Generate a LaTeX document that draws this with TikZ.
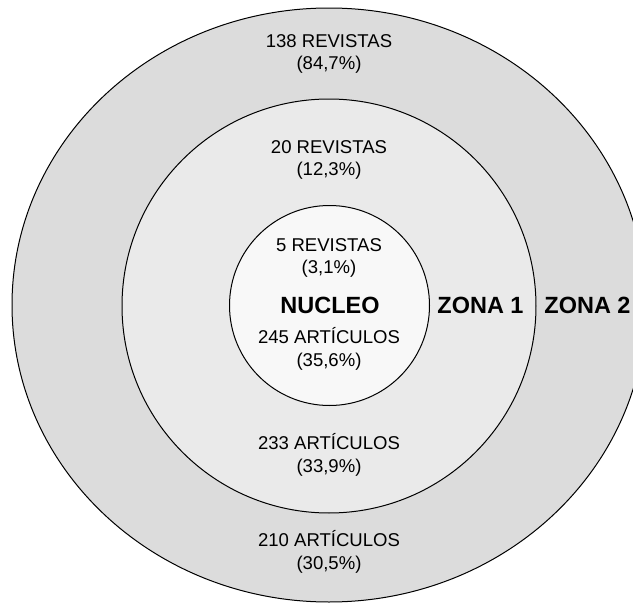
\documentclass[tikz,border=0pt]{standalone}
\usepackage{fontspec}
\setmainfont{Liberation Sans}
\definecolor{zonados}{RGB}{220,220,220}
\definecolor{zonauno}{RGB}{234,234,234}
\definecolor{nucleofill}{RGB}{248,248,248}
\newcommand{\txtnorm}{\fontsize{13.9}{16.9}\selectfont}
\newcommand{\txtbold}{\fontsize{17.6}{20}\selectfont\bfseries}
\begin{document}
\begin{tikzpicture}[x=0.75pt,y=0.75pt,yscale=-1,xscale=1]
\useasboundingbox (0,0) rectangle (633,603);
\clip (0,0) rectangle (633,603);

%Shape: Ellipse [zona 2]
\draw  [fill=zonados][line width=0.75] (329,305) ellipse [x radius=317, y radius=297] ;
%Shape: Circle [zona 1]
\draw  [fill=zonauno][line width=0.75] (329,306) circle [radius=207] ;
%Shape: Circle [nucleo]
\draw  [fill=nucleofill][line width=0.75] (329.5,305.5) circle [radius=100] ;

% Text Node
\draw (329,54) node (revz2) [align=center][inner sep=0.75pt]  [font=\txtnorm]  {138 REVISTAS\\(84,7\%)};
% Text Node
\draw (329,160) node (revz1) [align=center][inner sep=0.75pt]  [font=\txtnorm]  {20 REVISTAS\\(12,3\%)};
% Text Node
\draw (329,258) node (revnuc) [align=center][inner sep=0.75pt]  [font=\txtnorm]  {5 REVISTAS\\(3,1\%)};
% Text Node
\draw (330,305) node (nucleo) [inner sep=0.75pt]  [font=\txtbold]  {NUCLEO};
% Text Node
\draw (480.5,305) node (zona1) [inner sep=0.75pt]  [font=\txtbold]  {ZONA 1};
% Text Node
\draw (587.5,305) node (zona2) [inner sep=0.75pt]  [font=\txtbold]  {ZONA 2};
% Text Node
\draw (329,349) node (artnuc) [align=center][inner sep=0.75pt]  [font=\txtnorm]  {245 ARTÍCULOS\\(35,6\%)};
% Text Node
\draw (329,455) node (artz1) [align=center][inner sep=0.75pt]  [font=\txtnorm]  {233 ARTÍCULOS\\(33,9\%)};
% Text Node
\draw (329,552) node (artz2) [align=center][inner sep=0.75pt]  [font=\txtnorm]  {210 ARTÍCULOS\\(30,5\%)};
\end{tikzpicture}
\end{document}
